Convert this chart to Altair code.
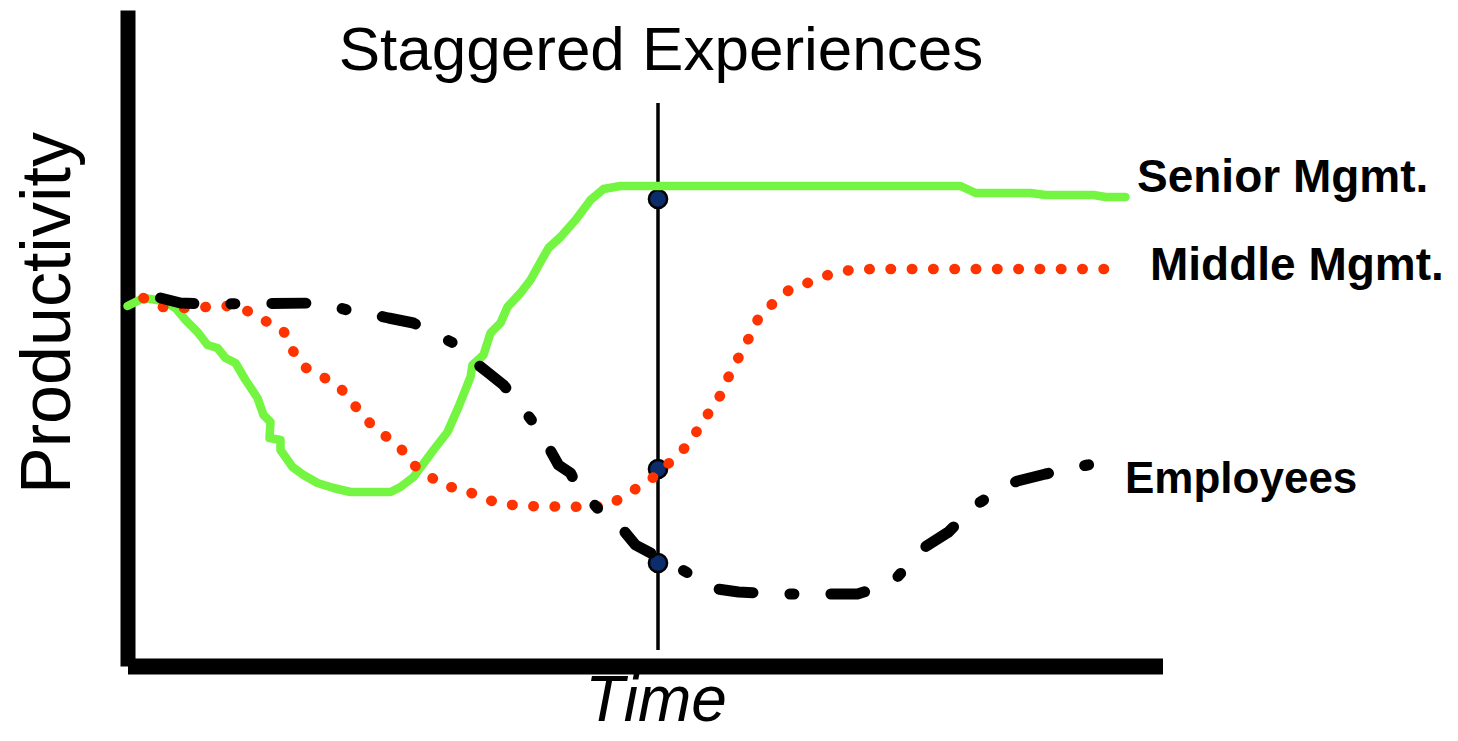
import altair as alt
import pandas as pd

# ---- data (time units, productivity units) ----
series_names = ["Senior Mgmt.", "Middle Mgmt.", "Employees"]

senior_t = [0.0, 1.6, 3.6, 4.8, 5.8, 7.0, 8.0, 9.0, 9.8, 10.8, 11.8, 13.0, 13.6, 14.3,
            14.2, 15.3, 15.3, 16.5, 17.6, 19.0, 20.6, 22.3, 26.3, 27.3, 28.6, 30.6,
            32.0, 33.1, 34.3, 34.5, 35.6, 36.3, 37.3, 38.0, 39.3, 40.3, 41.3, 42.1,
            43.3, 44.8, 46.3, 47.6, 49.3, 83.3, 84.8, 90.3, 91.8, 96.6, 97.8, 99.8]
senior_p = [36.0, 36.8, 36.5, 35.8, 34.6, 33.4, 32.1, 31.8, 30.8, 30.3, 28.6, 26.8, 25.1, 24.4,
            22.8, 22.6, 21.6, 19.9, 19.1, 18.3, 17.8, 17.4, 17.4, 17.9, 18.9, 21.6,
            23.4, 25.9, 28.9, 30.1, 31.1, 33.3, 34.3, 35.9, 37.3, 38.6, 40.4, 41.8,
            42.9, 44.6, 46.6, 47.7, 48.0, 48.0, 47.3, 47.3, 47.1, 47.1, 46.9, 46.9]

middle_t = [1.6, 3.5, 5.6, 7.8, 9.9, 12.0, 13.8, 15.6, 16.5, 17.5, 19.4, 21.2, 22.6, 23.9,
            25.5, 27.2, 28.2, 29.9, 31.6, 33.6, 35.4, 37.5, 39.6, 45.9, 48.1, 49.9, 51.7,
            53.4, 54.8, 56.3, 57.2, 58.4, 59.5, 60.3, 61.3, 62.3, 63.2, 64.7, 66.4, 68.3,
            70.3, 72.3, 74.5, 97.9]
middle_p = [36.8, 35.9, 35.8, 35.9, 36.0, 35.5, 34.5, 33.5, 31.6, 30.0, 29.0, 27.9, 26.2, 24.6,
            23.2, 22.0, 20.4, 19.2, 18.0, 17.7, 16.8, 16.2, 16.0, 15.9, 16.0, 17.2, 18.2,
            19.5, 21.0, 22.3, 24.0, 25.7, 27.4, 29.4, 31.2, 33.1, 35.0, 36.4, 37.8, 38.4,
            39.2, 39.6, 39.7, 39.7]

employees_t = [3.3, 5.3, 7.6, 19.3, 22.0, 23.5, 26.1, 28.6, 30.3, 33.0, 33.8, 36.1, 37.6,
               39.1, 41.0, 41.6, 43.1, 44.3, 45.0, 45.8, 47.8, 49.0, 50.8, 54.6, 57.3, 58.3,
               61.1, 65.6, 73.0, 74.3, 76.9, 78.8, 79.6, 82.1, 83.3, 84.3, 85.3, 87.8, 89.0,
               91.8, 94.6, 96.0, 99.1]
employees_p = [36.8, 36.3, 36.2, 36.3, 35.6, 35.4, 34.8, 34.3, 33.4, 32.1, 31.1, 29.3, 28.1,
               26.3, 23.8, 22.8, 20.1, 19.3, 17.9, 17.1, 14.9, 14.3, 12.1, 10.1, 8.6, 7.8,
               7.4, 7.2, 7.2, 7.6, 8.8, 10.9, 11.8, 13.4, 14.6, 15.9, 16.4, 18.0, 18.5,
               19.2, 19.8, 20.1, 20.6]

marker_time = 53.05
marker_p = [46.7, 19.7, 10.3]
rule_span = [1.6, 56.3]

chart_title = "Staggered Experiences"
y_title = "Productivity"
x_title = "Time"

# ---- tables ----
rows = []
for name, ts, ps in [(series_names[0], senior_t, senior_p),
                     (series_names[1], middle_t, middle_p),
                     (series_names[2], employees_t, employees_p)]:
    for i, (t, p) in enumerate(zip(ts, ps)):
        rows.append({"series": name, "idx": i, "t": t, "p": p})
lines_df = pd.DataFrame(rows)
markers_df = pd.DataFrame({"t": [marker_time] * 3, "p": marker_p})
rule_df = pd.DataFrame({"t": [marker_time], "p0": [rule_span[0]], "p1": [rule_span[1]]})

W, H = 1035, 656
xscale = alt.Scale(domain=[0, 103.5], nice=False, zero=False)
yscale = alt.Scale(domain=[0, 65.6], nice=False, zero=False)
xaxis = alt.Axis(title=None, labels=False, ticks=False, grid=False,
                 domainWidth=16, domainColor="black", domainCap="butt")
yaxis = alt.Axis(title=None, labels=False, ticks=False, grid=False,
                 domainWidth=15, domainColor="black", domainCap="butt")

X = alt.X("t:Q", scale=xscale, axis=xaxis)
Y = alt.Y("p:Q", scale=yscale, axis=yaxis)

rule = alt.Chart(rule_df).mark_rule(color="black", strokeWidth=3.5).encode(
    x=alt.X("t:Q", scale=xscale, axis=xaxis),
    y=alt.Y("p0:Q", scale=yscale, axis=yaxis),
    y2="p1:Q",
)

markers = alt.Chart(markers_df).mark_point(
    shape="circle", filled=True, fill="#0B2D6B", stroke="black",
    strokeWidth=2.5, size=330, opacity=1
).encode(x=X, y=Y)

def series_layer(name, **style):
    return alt.Chart(lines_df).transform_filter(
        alt.datum.series == name
    ).mark_line(**style).encode(x=X, y=Y, order=alt.Order("idx:Q"))

green = series_layer(series_names[0], color="#74F542", strokeWidth=8.5,
                     strokeCap="round", strokeJoin="round")
red = series_layer(series_names[1], color="#FF3300", strokeWidth=10.5,
                   strokeDash=[0.5, 20.8], strokeCap="round", strokeJoin="round")
black = series_layer(series_names[2], color="black", strokeWidth=11,
                     strokeDash=[34, 37, 4, 37], strokeCap="round", strokeJoin="round")

def text_layer(txt, x, y, **style):
    return alt.Chart(pd.DataFrame({"label": [txt]})).mark_text(**style).encode(
        text="label:N", x=alt.value(x), y=alt.value(y))

FONT = "Liberation Sans"
labels = [
    text_layer(series_names[0], 1009.5, 182, font=FONT, fontSize=46, fontWeight="bold",
               align="left", baseline="alphabetic", color="black"),
    text_layer(series_names[1], 1022.5, 270, font=FONT, fontSize=46, fontWeight="bold",
               align="left", baseline="alphabetic", color="black"),
    text_layer(series_names[2], 997.5, 483, font=FONT, fontSize=44, fontWeight="bold",
               align="left", baseline="alphabetic", color="black"),
    text_layer(chart_title, 533.5, 60, font=FONT, fontSize=62,
               align="center", baseline="alphabetic", color="black"),
    text_layer(y_title, -57.5, 303, font=FONT, fontSize=70, angle=270,
               align="center", baseline="alphabetic", color="black"),
    text_layer(x_title, 528.5, 711, font=FONT, fontSize=64, fontStyle="italic",
               align="center", baseline="alphabetic", color="black"),
]

chart = alt.layer(rule, markers, green, red, black, *labels).properties(
    width=W, height=H,
    autosize=alt.AutoSizeParams(type="none"),
    padding={"left": 119.5, "top": 2, "right": 287.5, "bottom": 70},
    background="white",
).configure_view(stroke=None)

chart.save("out.html", embed_options={"renderer": "svg", "actions": False})
